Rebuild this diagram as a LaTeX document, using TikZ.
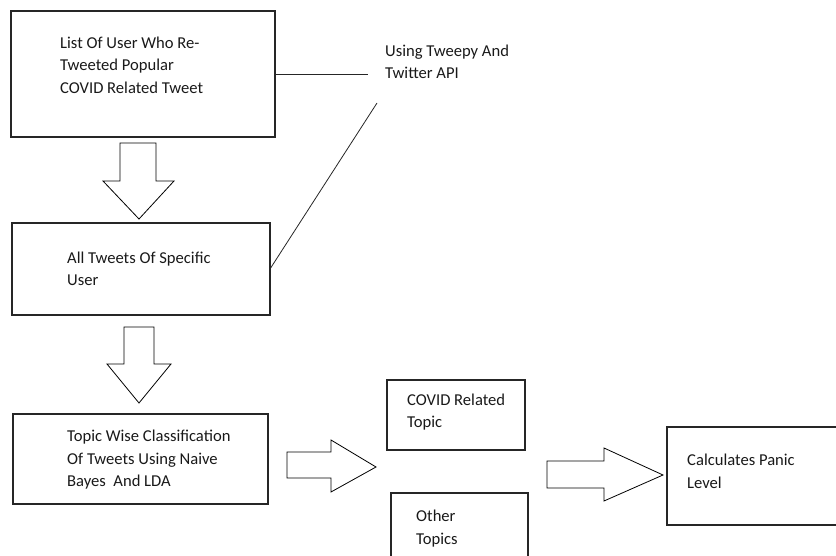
\documentclass[tikz,border=0pt]{standalone}
\usepackage{fontspec}
\setmainfont{Carlito}
\usetikzlibrary{positioning}

\begin{document}
\begin{tikzpicture}
      [x = 1pt, y = -1pt,
      box/.style= {
         draw = black!85,
         line width = 1.1pt,
         rectangle,
         inner sep = 0pt,
         outer sep = 0pt
      },
      txt/.style= {
         anchor = west,
         align = left,
         inner sep = 0pt,
         text = black!90,
         font = \fontsize{16.6}{22.5}\selectfont
      },
      blockarrow/.style= {draw, line width = 0.8pt, line join = miter},
      link/.style= {draw = black!85, line width = 0.8pt}]
      \useasboundingbox (0, 0) rectangle (836, 556);

      % boxes
      \node[box, minimum width = 264, minimum height = 126] (list) at (143, 74) {};
      \node[box, minimum width = 258, minimum height = 92] (tweets) at (141, 269) {};
      \node[box, minimum width = 255, minimum height = 90] (topic) at (140.5, 459) {};
      \node[box, minimum width = 138, minimum height = 70] (covid) at (456, 415) {};
      \node[box, minimum width = 137, minimum height = 82] (other) at (459.5, 534) {};
      \node[box, minimum width = 178, minimum height = 98] (panic) at (756, 476) {};

      % texts
      \node[txt] (listtext) at (60, 65) {List Of User Who Re-\\Tweeted Popular\\COVID Related Tweet};
      \node[txt] (tweetstext) at (67, 269) {All Tweets Of Specific\\User};
      \node[txt] (topictext) at (67, 460) {Topic Wise Classification\\Of Tweets Using Naive\\Bayes~~And LDA};
      \node[txt] (covidtext) at (407, 412) {COVID Related\\Topic};
      \node[txt] (othertext) at (416, 528.5) {Other\\Topics};
      \node[txt] (panictext) at (687, 471.5) {Calculates Panic\\Level};
      \node[txt] (api) at (385, 62) {Using Tweepy And\\Twitter API};

      % lines to the api note
      \coordinate (apiend) at (368, 74);
      \coordinate (apifoot) at (377, 103);
      \draw[link] (list.east) -- (apiend);
      \draw[link] (tweets.east) -- (apifoot);

      % block arrows
      \draw[blockarrow] (120, 143) -- (156, 143) -- (156, 181) -- (174, 181)
         -- (139, 219) -- (103, 181) -- (120, 181) -- cycle;
      \draw[blockarrow] (124, 327) -- (154, 327) -- (154, 364) -- (171, 364)
         -- (139, 403) -- (107, 364) -- (124, 364) -- cycle;
      \draw[blockarrow] (287, 452) -- (331, 452) -- (331, 440) -- (376, 467)
         -- (331, 492) -- (331, 478) -- (287, 478) -- cycle;
      \draw[blockarrow] (547, 461) -- (604, 461) -- (604, 448) -- (663, 475)
         -- (604, 501) -- (604, 488) -- (547, 488) -- cycle;

\end{tikzpicture}
\end{document}
